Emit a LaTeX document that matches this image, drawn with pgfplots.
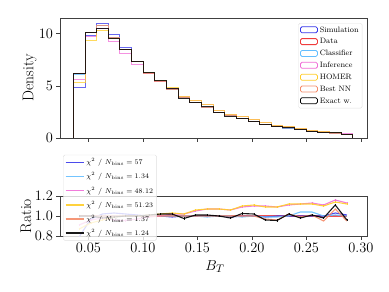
\documentclass[border=0pt]{standalone}
\usepackage{pgfplots}
\usepackage{pgfplotstable}
\pgfplotsset{compat=1.18}
\definecolor{simc}{RGB}{55,55,235}
\definecolor{datac}{RGB}{240,60,60}
\definecolor{clsc}{RGB}{100,190,255}
\definecolor{infc}{RGB}{240,110,215}
\definecolor{homc}{RGB}{255,205,40}
\definecolor{nnc}{RGB}{245,140,105}

\pgfplotstableread{
x data sim cls inf hom nn ex
0.0362 0 0 0 0 0 0 0
0.0362 6.15 4.86 6.09 5.60 5.35 6.15 6.15
0.04688 10.10 9.80 10.10 9.70 9.39 10.10 10.10
0.05756 10.75 10.97 10.75 10.54 10.32 10.75 10.54
0.06824 9.65 9.94 9.65 9.26 9.55 9.65 9.55
0.07892 8.50 8.67 8.50 8.12 8.50 8.50 8.50
0.0896 7.30 7.37 7.30 7.08 7.30 7.30 7.30
0.10028 6.22 6.22 6.22 6.16 6.28 6.22 6.28
0.11096 5.40 5.40 5.40 5.40 5.51 5.40 5.51
0.12164 4.70 4.65 4.70 4.79 4.84 4.70 4.79
0.13232 3.92 3.92 3.92 4.00 4.00 3.92 3.82
0.143 3.40 3.40 3.40 3.57 3.60 3.40 3.43
0.15368 2.97 2.97 2.94 3.18 3.18 2.97 3.00
0.16436 2.50 2.50 2.50 2.68 2.68 2.50 2.50
0.17504 2.14 2.12 2.14 2.27 2.27 2.14 2.10
0.18572 1.87 1.87 1.85 2.04 2.06 1.87 1.92
0.1964 1.60 1.60 1.60 1.76 1.78 1.60 1.63
0.20708 1.33 1.32 1.32 1.46 1.45 1.29 1.28
0.21776 1.12 1.12 1.11 1.22 1.22 1.08 1.07
0.22844 0.96 0.96 0.96 1.07 1.08 0.98 0.98
0.23912 0.80 0.80 0.83 0.90 0.90 0.79 0.78
0.2498 0.64 0.64 0.67 0.72 0.72 0.65 0.65
0.26048 0.54 0.54 0.54 0.60 0.59 0.51 0.53
0.27116 0.45 0.46 0.45 0.52 0.51 0.48 0.50
0.28184 0.35 0.35 0.35 0.40 0.39 0.33 0.34
0.29252 0.35 0.35 0.35 0.40 0.39 0.33 0.34
0.29252 0 0 0 0 0 0 0
}\histtab

\pgfplotstableread{
x data sim cls inf hom nn ex
0.04154 1 0.79 0.99 0.91 0.87 1.00 1.00
0.05222 1 0.97 1.00 0.96 0.93 1.00 1.00
0.0629 1 1.02 1.00 0.98 0.96 1.00 0.98
0.07358 1 1.03 1.00 0.96 0.99 1.00 0.99
0.08426 1 1.02 1.00 0.955 1.00 1.00 1.00
0.09494 1 1.01 1.00 0.97 1.00 1.00 1.00
0.10562 1 1.00 1.00 0.99 1.01 1.00 1.01
0.1163 1 1.00 1.00 1.00 1.02 1.00 1.02
0.12698 1 0.99 1.00 1.02 1.03 1.00 1.02
0.13766 1 1.00 1.00 1.02 1.02 1.00 0.975
0.14834 1 1.00 1.00 1.05 1.06 1.00 1.01
0.15902 1 1.00 0.99 1.07 1.07 1.00 1.01
0.1697 1 1.00 1.00 1.07 1.07 1.00 1.00
0.18038 1 0.99 1.00 1.06 1.06 1.00 0.98
0.19106 1 1.00 0.99 1.09 1.10 1.00 1.025
0.20174 1 1.00 1.00 1.10 1.11 1.00 1.02
0.21242 1 0.99 0.99 1.10 1.09 0.97 0.96
0.2231 1 1.00 0.99 1.09 1.09 0.96 0.955
0.23378 1 1.00 1.00 1.11 1.12 1.02 1.02
0.24446 1 1.00 1.04 1.12 1.12 0.99 0.98
0.25514 1 1.00 1.04 1.13 1.12 1.01 1.01
0.26582 1 1.00 1.00 1.11 1.10 0.95 0.98
0.2765 1 1.03 1.01 1.16 1.14 1.07 1.11
0.28718 1 1.01 1.00 1.13 1.12 0.95 0.96
}\ratiotab

\pgfplotsset{
  common/.style={
    scale only axis, width=307pt,
    xmin=0.024, xmax=0.3056,
    axis line style={black!75, line width=0.6pt},
    tick align=outside, xtick pos=bottom, ytick pos=left,
    major tick length=3.5pt,
    every tick/.style={black!75, line width=0.6pt},
    tick label style={font=\fontsize{14.5}{16}\selectfont},
    label style={font=\fontsize{15.5}{18}\selectfont},
    xtick={0.05,0.10,0.15,0.20,0.25,0.30},
  },
  hist/.style={const plot, no marks, line width=0.8pt, opacity=0.75},
  rat/.style={no marks, line width=1.1pt, opacity=0.9},
}

\begin{document}
\begin{tikzpicture}
\begin{axis}[common, name=top, at={(0pt,0pt)}, anchor=south west,
  height=120pt, ymin=0, ymax=11.5, ytick={0,5,10},
  xticklabels={},
  ylabel={Density},
  y label style={at={(axis description cs:-0.099,0.5)}, anchor=center},
  legend cell align=left,
  legend style={at={(0.985,0.958)}, anchor=north east,
    font=\fontsize{7.8}{9}\selectfont, draw=black!12, fill=white,
    fill opacity=0.8, text opacity=1, rounded corners=1.5pt,
    row sep=0.9pt, inner sep=1.5pt},
  legend image code/.code={\draw[#1, opacity=1] (0pt,-2.6pt) rectangle (17pt,3.4pt);},
]
\addplot[hist, simc] table[x=x, y=sim] {\histtab};
\addlegendentry{Simulation}
\addplot[hist, datac] table[x=x, y=data] {\histtab};
\addlegendentry{Data}
\addplot[hist, clsc] table[x=x, y=cls] {\histtab};
\addlegendentry{Classifier}
\addplot[hist, infc] table[x=x, y=inf] {\histtab};
\addlegendentry{Inference}
\addplot[hist, homc] table[x=x, y=hom] {\histtab};
\addlegendentry{HOMER}
\addplot[hist, nnc] table[x=x, y=nn] {\histtab};
\addlegendentry{Best NN}
\addplot[hist, black, opacity=0.85] table[x=x, y=ex] {\histtab};
\addlegendentry{Exact w.}
\end{axis}

\begin{axis}[common, name=bot, at={(0pt,-58pt)}, anchor=north west,
  height=40pt, ymin=0.8, ymax=1.2, ytick={0.8,1.0,1.2},
  yticklabel style={/pgf/number format/.cd, fixed, fixed zerofill, precision=1},
  xticklabel style={/pgf/number format/.cd, fixed, fixed zerofill, precision=2},
  xlabel={$B_T$}, ylabel={Ratio},
  y label style={at={(axis description cs:-0.111,0.5)}, anchor=center},
  x label style={at={(axis description cs:0.505,-0.77)}, anchor=center},
  legend cell align=left,
  legend style={at={(0.01,2.03)}, anchor=north west,
    font=\fontsize{7.4}{9}\selectfont, draw=black!12, fill=white,
    fill opacity=0.8, text opacity=1, rounded corners=1.5pt,
    row sep=2.4pt, inner sep=1.5pt},
  legend image code/.code={\draw[#1, line width=1.5pt] (0pt,0pt) -- (18pt,0pt);},
]
\addplot[rat, datac, forget plot] table[x=x, y=data] {\ratiotab};
\addplot[rat, simc] table[x=x, y=sim] {\ratiotab};
\addlegendentry{$\chi^2\ /\ N_{\mathrm{bins}} = 57$}
\addplot[rat, clsc] table[x=x, y=cls] {\ratiotab};
\addlegendentry{$\chi^2\ /\ N_{\mathrm{bins}} = 1.34$}
\addplot[rat, infc, error bars/.cd, y dir=both, y fixed=0.012, error mark=none] table[x=x, y=inf] {\ratiotab};
\addlegendentry{$\chi^2\ /\ N_{\mathrm{bins}} = 48.12$}
\addplot[rat, homc, error bars/.cd, y dir=both, y fixed=0.012, error mark=none] table[x=x, y=hom] {\ratiotab};
\addlegendentry{$\chi^2\ /\ N_{\mathrm{bins}} = 51.23$}
\addplot[rat, nnc] table[x=x, y=nn] {\ratiotab};
\addlegendentry{$\chi^2\ /\ N_{\mathrm{bins}} = 1.37$}
\addplot[rat, black, error bars/.cd, y dir=both, y fixed=0.012, error mark=none] table[x=x, y=ex] {\ratiotab};
\addlegendentry{$\chi^2\ /\ N_{\mathrm{bins}} = 1.24$}
\end{axis}
\pgfresetboundingbox
\path[use as bounding box] (-60pt,-154pt) rectangle (329pt,138pt);
\end{tikzpicture}
\end{document}
